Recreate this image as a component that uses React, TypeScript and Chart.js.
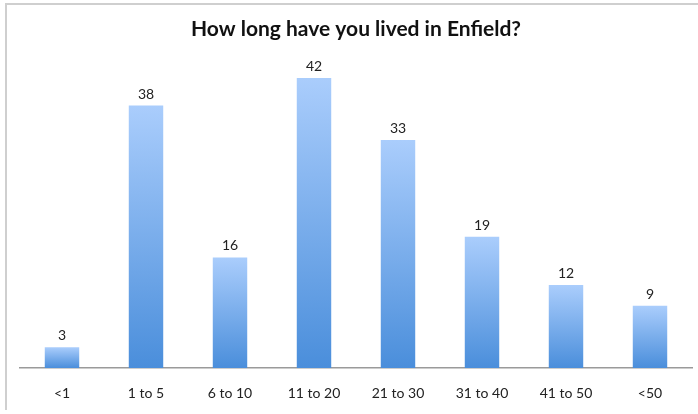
import React, { useEffect, useRef } from "react";
import { Chart, registerables } from "chart.js";

Chart.register(...registerables);

const categories = ["<1", "1 to 5", "6 to 10", "11 to 20", "21 to 30", "31 to 40", "41 to 50", "<50"];
const values = [3, 38, 16, 42, 33, 19, 12, 9];
const titleText = "How long have you lived in Enfield?";

const FONT = "Lato, 'Open Sans', sans-serif";

const valueLabels = {
  id: "valueLabels",
  afterDatasetsDraw(chart: any) {
    const ctx = chart.ctx;
    const meta = chart.getDatasetMeta(0);
    ctx.save();
    ctx.font = `14px ${FONT}`;
    ctx.fillStyle = "#222";
    ctx.textAlign = "center";
    ctx.textBaseline = "alphabetic";
    meta.data.forEach((el: any, i: number) => {
      ctx.fillText(String(values[i]), el.x, el.y - 7);
    });
    ctx.restore();
  },
};

export default function App() {
  const ref = useRef<HTMLCanvasElement>(null);
  useEffect(() => {
    const chart = new Chart(ref.current!, {
      type: "bar",
      data: {
        labels: categories,
        datasets: [
          {
            data: values,
            backgroundColor: (c: any) => {
              const chart = c.chart;
              const { ctx, chartArea, scales } = chart;
              if (!chartArea || !scales.y) return "#7fb0ee";
              const top = scales.y.getPixelForValue(c.raw);
              const bottom = scales.y.getPixelForValue(0);
              const g = ctx.createLinearGradient(0, top, 0, bottom);
              g.addColorStop(0, "#aacdfc");
              g.addColorStop(1, "#4a8edb");
              return g;
            },
            borderWidth: 0,
            categoryPercentage: 1,
            barPercentage: 0.41,
          },
        ],
      },
      options: {
        animation: false,
        responsive: false,
        maintainAspectRatio: false,
        layout: { padding: { left: 20, right: 6, top: 0, bottom: 0 } },
        plugins: {
          legend: { display: false },
          tooltip: { enabled: false },
          title: {
            display: true,
            text: titleText,
            color: "#111",
            font: { family: FONT, size: 21, weight: "bold" },
            padding: { top: 17, bottom: 15 },
          },
        },
        scales: {
          x: {
            grid: { display: false, drawTicks: false },
            border: { display: true, color: "#9a9a9a", width: 1.5 },
            ticks: { color: "#222", font: { family: FONT, size: 14 }, padding: 17 },
            afterFit: (scale: any) => {
              scale.height = 46;
            },
          },
          y: {
            display: false,
            min: 0,
            max: 45,
          },
        },
      },
      plugins: [valueLabels],
    });
    return () => chart.destroy();
  }, []);
  return (
    <div style={{ position: "absolute", left: 0, top: 0, width: 698, height: 414, background: "#fff" }}>
      <div
        style={{
          position: "absolute",
          left: 5,
          top: 3,
          width: 693,
          height: 407,
          borderTop: "2px solid #cfcfcf",
          borderLeft: "2px solid #cfcfcf",
          boxSizing: "border-box",
        }}
      />
      <canvas ref={ref} width={698} height={414} style={{ position: "absolute", left: 0, top: 0 }} />
    </div>
  );
}
